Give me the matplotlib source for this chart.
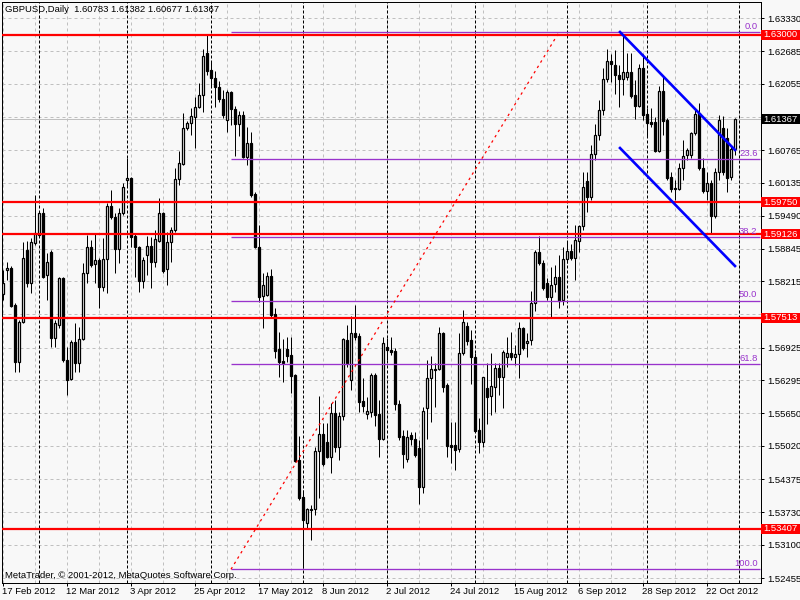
import matplotlib
matplotlib.use('Agg')
import matplotlib.pyplot as plt
import matplotlib.transforms as mtransforms
from matplotlib.patches import Rectangle
import numpy as np

plt.rcParams['font.family'] = ['Liberation Sans', 'DejaVu Sans']

# GBPUSD daily bars, 17 Feb 2012 .. 31 Oct 2012
opens = [1.5797, 1.5843, 1.5847, 1.5775, 1.5665, 1.5742, 1.5882, 1.5818, 1.5896, 1.5912,
         1.5954, 1.5834, 1.5879, 1.5712, 1.5737, 1.5828, 1.5669, 1.5632, 1.5704, 1.5663,
         1.5710, 1.5838, 1.5888, 1.5855, 1.5863, 1.5811, 1.5865, 1.5968, 1.5947, 1.5884,
         1.5954, 1.6018, 1.6022, 1.5910, 1.5888, 1.5822, 1.5873, 1.5890, 1.5859, 1.5900,
         1.5954, 1.5846, 1.5898, 1.5921, 1.6020, 1.6050, 1.6119, 1.6129, 1.6141, 1.6160,
         1.6184, 1.6265, 1.6232, 1.6217, 1.6199, 1.6176, 1.6135, 1.6189, 1.6156, 1.6127,
         1.6145, 1.6063, 1.6090, 1.5991, 1.5888, 1.5793, 1.5795, 1.5832, 1.5758, 1.5690,
         1.5667, 1.5690, 1.5679, 1.5640, 1.5475, 1.5403, 1.5352, 1.5378, 1.5380, 1.5492,
         1.5525, 1.5510, 1.5481, 1.5566, 1.5500, 1.5560, 1.5708, 1.5630, 1.5721, 1.5716,
         1.5589, 1.5564, 1.5568, 1.5640, 1.5564, 1.5515, 1.5694, 1.5688, 1.5686, 1.5583,
         1.5521, 1.5477, 1.5523, 1.5515, 1.5498, 1.5422, 1.5576, 1.5634, 1.5651, 1.5651,
         1.5721, 1.5620, 1.5504, 1.5504, 1.5496, 1.5682, 1.5735, 1.5708, 1.5675, 1.5533,
         1.5510, 1.5615, 1.5599, 1.5616, 1.5653, 1.5636, 1.5675, 1.5682, 1.5675, 1.5680,
         1.5731, 1.5702, 1.5708, 1.5780, 1.5879, 1.5857, 1.5818, 1.5791, 1.5817, 1.5830,
         1.5785, 1.5865, 1.5881, 1.5867, 1.5900, 1.5929, 1.6017, 1.5985, 1.6069, 1.6106,
         1.6154, 1.6215, 1.6250, 1.6242, 1.6222, 1.6215, 1.6219, 1.6228, 1.6184, 1.6162,
         1.6236, 1.6147, 1.6131, 1.6131, 1.6075, 1.6191, 1.6135, 1.6024, 1.6003, 1.6001,
         1.6042, 1.6067, 1.6067, 1.6110, 1.6149, 1.6042, 1.5997, 1.6013, 1.5949, 1.6034,
         1.6119, 1.6100, 1.6024, 1.60783]
highs = [1.5843, 1.5859, 1.5851, 1.5779, 1.5746, 1.5898, 1.5900, 1.5906, 1.5990, 1.5958,
         1.5964, 1.5877, 1.5882, 1.5746, 1.5830, 1.5830, 1.5694, 1.5708, 1.5741, 1.5733,
         1.5857, 1.5912, 1.5902, 1.5915, 1.5867, 1.5906, 1.5974, 1.5999, 1.5954, 1.5964,
         1.6013, 1.6061, 1.6024, 1.5915, 1.5890, 1.5869, 1.5910, 1.5908, 1.5921, 1.5983,
         1.5956, 1.5917, 1.5927, 1.6042, 1.6075, 1.6149, 1.6133, 1.6158, 1.6180, 1.6207,
         1.6273, 1.6300, 1.6248, 1.6230, 1.6211, 1.6193, 1.6193, 1.6191, 1.6162, 1.6152,
         1.6152, 1.6121, 1.6112, 1.5995, 1.5931, 1.5838, 1.5840, 1.5846, 1.5770, 1.5723,
         1.5710, 1.5714, 1.5714, 1.5642, 1.5521, 1.5417, 1.5382, 1.5387, 1.5500, 1.5599,
         1.5547, 1.5547, 1.5585, 1.5591, 1.5568, 1.5712, 1.5737, 1.5754, 1.5776, 1.5721,
         1.5634, 1.5597, 1.5644, 1.5644, 1.5591, 1.5714, 1.5712, 1.5714, 1.5692, 1.5591,
         1.5533, 1.5533, 1.5529, 1.5529, 1.5513, 1.5578, 1.5669, 1.5677, 1.5663, 1.5733,
         1.5723, 1.5624, 1.5549, 1.5549, 1.5721, 1.5766, 1.5743, 1.5727, 1.5682, 1.5556,
         1.5636, 1.5663, 1.5682, 1.5663, 1.5663, 1.5688, 1.5714, 1.5723, 1.5698, 1.5743,
         1.5733, 1.5721, 1.5803, 1.5882, 1.5910, 1.5863, 1.5828, 1.5849, 1.5853, 1.5873,
         1.5888, 1.5898, 1.5894, 1.5931, 1.5931, 1.6034, 1.6034, 1.6086, 1.6127, 1.6174,
         1.6236, 1.6273, 1.6263, 1.6271, 1.6242, 1.6302, 1.6265, 1.6265, 1.6213, 1.6244,
         1.6263, 1.6158, 1.6158, 1.6141, 1.6201, 1.6218, 1.6139, 1.6034, 1.6018, 1.6052,
         1.6096, 1.6081, 1.6112, 1.6158, 1.6168, 1.6061, 1.6034, 1.6018, 1.6042, 1.6145,
         1.6143, 1.6119, 1.6086, 1.61382]
lows = [1.5785, 1.5824, 1.5771, 1.5645, 1.5645, 1.5740, 1.5811, 1.5799, 1.5892, 1.5910,
        1.5828, 1.5785, 1.5694, 1.5694, 1.5731, 1.5665, 1.5601, 1.5630, 1.5645, 1.5645,
        1.5708, 1.5818, 1.5849, 1.5818, 1.5770, 1.5803, 1.5799, 1.5943, 1.5838, 1.5857,
        1.5951, 1.6007, 1.5888, 1.5830, 1.5801, 1.5809, 1.5834, 1.5809, 1.5849, 1.5898,
        1.5838, 1.5815, 1.5859, 1.5917, 1.6009, 1.6048, 1.6116, 1.6106, 1.6081, 1.6158,
        1.6151, 1.6222, 1.6199, 1.6160, 1.6170, 1.6139, 1.6112, 1.6125, 1.6065, 1.6104,
        1.6061, 1.6048, 1.5985, 1.5886, 1.5782, 1.5731, 1.5793, 1.5753, 1.5673, 1.5636,
        1.5626, 1.5665, 1.5605, 1.5471, 1.5397, 1.5265, 1.5343, 1.5319, 1.5368, 1.5401,
        1.5463, 1.5479, 1.5450, 1.5490, 1.5475, 1.5552, 1.5655, 1.5611, 1.5708, 1.5568,
        1.5568, 1.5554, 1.5558, 1.5541, 1.5481, 1.5513, 1.5669, 1.5679, 1.5572, 1.5513,
        1.5459, 1.5471, 1.5504, 1.5481, 1.5389, 1.5411, 1.5515, 1.5549, 1.5578, 1.5649,
        1.5607, 1.5481, 1.5469, 1.5455, 1.5490, 1.5679, 1.5698, 1.5622, 1.5529, 1.5488,
        1.5500, 1.5545, 1.5562, 1.5568, 1.5601, 1.5576, 1.5655, 1.5669, 1.5659, 1.5634,
        1.5688, 1.5675, 1.5698, 1.5764, 1.5853, 1.5805, 1.5785, 1.5752, 1.5801, 1.5770,
        1.5776, 1.5857, 1.5863, 1.5824, 1.5879, 1.5921, 1.5956, 1.5980, 1.6057, 1.6096,
        1.6145, 1.6209, 1.6209, 1.6185, 1.6160, 1.6184, 1.6213, 1.6178, 1.6137, 1.6160,
        1.6135, 1.6102, 1.6121, 1.6073, 1.6073, 1.6106, 1.6018, 1.5995, 1.5980, 1.5999,
        1.6018, 1.6057, 1.6061, 1.6106, 1.6038, 1.5993, 1.5980, 1.5914, 1.5945, 1.6018,
        1.6028, 1.5995, 1.6018, 1.60677]
closes = [1.5818, 1.5847, 1.5773, 1.5665, 1.5742, 1.5866, 1.5818, 1.5898, 1.5915, 1.5954,
          1.5830, 1.5859, 1.5712, 1.5741, 1.5828, 1.5669, 1.5630, 1.5704, 1.5663, 1.5710,
          1.5838, 1.5888, 1.5853, 1.5863, 1.5811, 1.5865, 1.5968, 1.5947, 1.5884, 1.5954,
          1.6005, 1.6022, 1.5908, 1.5888, 1.5822, 1.5863, 1.5890, 1.5859, 1.5904, 1.5954,
          1.5842, 1.5898, 1.5921, 1.6020, 1.6051, 1.6119, 1.6129, 1.6143, 1.6160, 1.6184,
          1.6259, 1.6230, 1.6217, 1.6199, 1.6176, 1.6145, 1.6189, 1.6156, 1.6127, 1.6145,
          1.6063, 1.6090, 1.5989, 1.5888, 1.5791, 1.5815, 1.5832, 1.5756, 1.5686, 1.5665,
          1.5663, 1.5677, 1.5638, 1.5473, 1.5401, 1.5358, 1.5380, 1.5380, 1.5492, 1.5525,
          1.5467, 1.5481, 1.5566, 1.5500, 1.5560, 1.5710, 1.5663, 1.5721, 1.5714, 1.5587,
          1.5580, 1.5570, 1.5640, 1.5562, 1.5515, 1.5702, 1.5688, 1.5684, 1.5583, 1.5519,
          1.5486, 1.5519, 1.5515, 1.5484, 1.5422, 1.5570, 1.5634, 1.5651, 1.5649, 1.5721,
          1.5616, 1.5502, 1.5500, 1.5494, 1.5682, 1.5743, 1.5706, 1.5675, 1.5531, 1.5510,
          1.5636, 1.5597, 1.5618, 1.5653, 1.5636, 1.5684, 1.5682, 1.5675, 1.5680, 1.5731,
          1.5692, 1.5706, 1.5780, 1.5879, 1.5857, 1.5809, 1.5791, 1.5815, 1.5830, 1.5784,
          1.5865, 1.5881, 1.5867, 1.5902, 1.5929, 1.6005, 1.5985, 1.6069, 1.6106, 1.6154,
          1.6215, 1.6250, 1.6244, 1.6222, 1.6215, 1.6228, 1.6228, 1.6182, 1.6162, 1.6236,
          1.6145, 1.6129, 1.6127, 1.6075, 1.6191, 1.6133, 1.6022, 1.6001, 1.6001, 1.6042,
          1.6065, 1.6077, 1.6110, 1.6147, 1.6042, 1.5997, 1.6013, 1.5949, 1.6034, 1.6135,
          1.6034, 1.6022, 1.6079, 1.61367]

date_labels = ['17 Feb 2012', '12 Mar 2012', '3 Apr 2012', '25 Apr 2012', '17 May 2012',
               '8 Jun 2012', '2 Jul 2012', '24 Jul 2012', '15 Aug 2012', '6 Sep 2012',
               '28 Sep 2012', '22 Oct 2012']
month_start_bars = [9, 31, 52, 75, 96, 118, 141, 161, 184]
price_ticks = [1.63330, 1.62685, 1.62055, 1.61410, 1.60765, 1.60135, 1.59490, 1.58845,
               1.58215, 1.57580, 1.56925, 1.56295, 1.55650, 1.55020, 1.54375, 1.53730,
               1.53100, 1.52455]
hidden_ticks = [1.61410, 1.57580]   # covered by the price boxes
red_levels = [1.63000, 1.59750, 1.59126, 1.57513, 1.53407]
fib_low, fib_high = 1.52624, 1.63052
fib_levels = [0.0, 23.6, 38.2, 50.0, 61.8, 100.0]
fib_start_bar, fib_end_bar = 57, 139
upper_channel = ([154.25, 183], [1.63058, 1.60767])
lower_channel = ([154.25, 183], [1.60805, 1.58514])
last_price = closes[-1]

# pixel geometry of the terminal window
W, H = 800, 600
PX_PER_BAR = 4.0
PX_PER_PRICE = 560 / (1.63330 - 1.52455)
LEFT, RIGHT, TOP, BOTTOM = 2.0, 760.5, 1.5, 582.5
PX = 0.72  # one pixel in points

def px_to_price(py):
    return 1.63330 - (py - 18) / PX_PER_PRICE

def px_to_bar(px):
    return (px - 3) / PX_PER_BAR

BG = '#F8F8F8'
GRID = '#C0C0C0'
FIB = '#9933CC'
FS = 6.8

fig = plt.figure(figsize=(W / 100, H / 100), dpi=100, facecolor=BG)
ax = fig.add_axes([LEFT / W, (H - BOTTOM) / H, (RIGHT - LEFT) / W, (BOTTOM - TOP) / H])
ax.set_facecolor(BG)
ax.set_xlim(px_to_bar(LEFT), px_to_bar(RIGHT))
ax.set_ylim(px_to_price(BOTTOM), px_to_price(TOP))
for s in ax.spines.values():
    s.set_linewidth(PX)
    s.set_color('black')

n = len(opens)
xb = np.arange(n)
o, h, l, c = (np.array(a) for a in (opens, highs, lows, closes))

# grid and period separators
for x in range(0, n + 1, 8):
    ax.axvline(x, color=GRID, lw=PX, ls=(0, (3, 3)), zorder=1)
for p in price_ticks:
    ax.axhline(p, color=GRID, lw=PX, ls=(0, (3, 3)), zorder=1)
for x in month_start_bars:
    ax.axvline(x, color='black', lw=PX, ls=(0, (3, 2)), zorder=1.2)
ax.axhline(last_price, color=GRID, lw=PX, zorder=1.3)

# candles
up = c >= o
ax.vlines(xb, l, h, color='black', lw=PX, zorder=3)
body_lo = np.minimum(o, c)
body_h = np.maximum(np.abs(c - o), 0.00004)
ax.bar(xb, body_h, bottom=body_lo, width=0.58,
       color=np.where(up, 'white', 'black'), edgecolor='black', linewidth=0.9, zorder=4)

# objects
for p in red_levels:
    ax.axhline(p, color='#FF0000', lw=1.6, zorder=6)
fib_rng = fib_high - fib_low
for lv in fib_levels:
    p = fib_high - fib_rng * lv / 100
    ax.plot([fib_start_bar, px_to_bar(RIGHT)], [p, p], color=FIB, lw=0.95, zorder=5,
            solid_capstyle='butt')
    ax.text(px_to_bar(757.5), p + 6 / PX_PER_PRICE, f'{lv:.1f}', color=FIB, fontsize=FS,
            ha='right', va='center', zorder=7)
ax.plot([fib_start_bar, fib_end_bar], [fib_low, fib_high], color='#FF0000', lw=0.9,
        ls=(0, (2, 3)), zorder=5)
ax.plot(*upper_channel, color='#0000FF', lw=1.9, zorder=6)
ax.plot(*lower_channel, color='#0000FF', lw=1.9, zorder=6)

# price scale
ax.set_xticks(range(0, n, 16))
ax.set_xticklabels([])
ax.tick_params(axis='x', direction='out', length=2.5, width=PX)
ax.yaxis.tick_right()
ax.set_yticks(price_ticks)
ax.set_yticklabels(['' if p in hidden_ticks else f'{p:.5f}' for p in price_ticks])
ax.tick_params(axis='y', direction='out', length=2.5, width=PX, pad=2.2, labelsize=FS)

lab_tr = mtransforms.blended_transform_factory(ax.transAxes, ax.transData)
box_x0 = (761 - LEFT) / (RIGHT - LEFT)
box_w = (800 - 761) / (RIGHT - LEFT)
box_h = 10 / PX_PER_PRICE
for p, face in [(lv, '#FF0000') for lv in red_levels] + [(last_price, 'black')]:
    ax.add_patch(Rectangle((box_x0, p - box_h / 2), box_w, box_h, transform=lab_tr,
                           facecolor=face, edgecolor='none', clip_on=False, zorder=10))
    ax.text(box_x0 + box_w / 2, p, f'{p:.5f}', transform=lab_tr, color='white', fontsize=FS,
            ha='center', va='center', clip_on=False, zorder=11)

# time scale
date_tr = mtransforms.blended_transform_factory(ax.transData, ax.transAxes)
for k, txt in enumerate(date_labels):
    ax.text(16 * k - 0.25, (BOTTOM - 592) / (BOTTOM - TOP), txt, transform=date_tr,
            fontsize=FS, ha='left', va='center', clip_on=False)

ax.text((5 - LEFT) / (RIGHT - LEFT), (BOTTOM - 10) / (BOTTOM - TOP),
        'GBPUSD,Daily  %.5f %.5f %.5f %.5f' % (opens[-1], highs[-1], lows[-1], closes[-1]),
        transform=ax.transAxes, fontsize=FS, ha='left', va='center', zorder=12)
ax.text((5 - LEFT) / (RIGHT - LEFT), (BOTTOM - 575) / (BOTTOM - TOP),
        'MetaTrader, © 2001-2012, MetaQuotes Software Corp.',
        transform=ax.transAxes, fontsize=FS, ha='left', va='center', zorder=12)

fig.savefig('out.png', dpi=100, facecolor=BG)
